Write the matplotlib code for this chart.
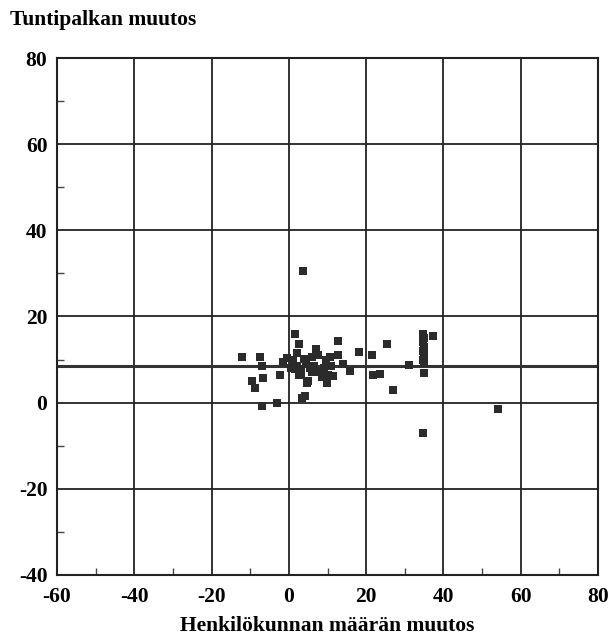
import matplotlib.pyplot as plt
import numpy as np

plt.rcParams['font.family'] = ['Liberation Serif', 'DejaVu Serif']
plt.rcParams['axes.unicode_minus'] = False

# henkilökunnan määrän muutos (x) ja tuntipalkan muutos (y)
staff_change = [3.6, -12.1, -7.4, -7.0, -6.8, -9.5, -8.7, -2.2, -0.5, -1.5,
                1.6, 2.5, 2.1, 1.0, 7.0, 12.8, 12.8, 10.6, 4.2, 3.5,
                4.6, 9.8, 11.5, 15.8, -7.0, -3.1, 2.0, 3.0, 4.5, 5.5,
                6.5, 8.0, 9.0, 6.0, 7.5, 3.0, 5.0, 8.5, 10.2, 11.0,
                18.2, 21.6, 25.3, 21.8, 23.5, 27.0, 31.1, 34.7, 34.7, 34.7,
                34.7, 34.9, 37.3, 34.7, 54.0, 1.5, 0.5, 14.0, 2.5, 6.0,
                9.5, 4.0, 34.9, 34.9, 34.9, 34.9]
wage_change = [30.5, 10.7, 10.7, 8.4, 5.7, 4.9, 3.4, 6.3, 10.4, 9.5,
               16.0, 13.5, 11.5, 10.0, 12.4, 14.2, 11.1, 10.7, 1.5, 1.0,
               4.6, 4.6, 6.1, 7.3, -0.8, 0.0, 8.5, 7.5, 9.0, 8.0,
               8.5, 7.0, 8.0, 10.5, 11.0, 6.5, 5.0, 6.0, 6.5, 8.5,
               11.8, 11.1, 13.7, 6.3, 6.7, 2.9, 8.7, 16.0, 14.0, 12.0,
               10.0, 6.9, 15.4, -7.0, -1.5, 7.8, 8.0, 9.0, 6.5, 7.2,
               9.8, 10.2, 15.0, 13.0, 11.0, 9.2]
mean_wage = 8.6

x_ticks = [-60, -40, -20, 0, 20, 40, 60, 80]
y_ticks = [-40, -20, 0, 20, 40, 60, 80]

fig = plt.figure(figsize=(6.14, 6.4), dpi=100)
ax = fig.add_axes([0.093, 0.102, 0.881, 0.807])

ax.scatter(staff_change, wage_change, marker='s', s=38, color='#2b2b2b',
           linewidths=0, zorder=3)
ax.axhline(mean_wage, color='#333333', lw=2.2, zorder=2)

ax.set_xlim(-60, 80)
ax.set_ylim(-40, 80)
ax.set_xticks(x_ticks)
ax.set_yticks(y_ticks)
ax.set_xticks(np.arange(-50, 80, 20), minor=True)
ax.set_yticks(np.arange(-30, 80, 20), minor=True)
ax.grid(True, which='major', color='#222222', lw=1.3)
ax.tick_params(which='major', length=0, labelsize=15.5, pad=7)
ax.tick_params(axis='x', which='major', pad=9)
ax.tick_params(which='minor', direction='in', length=5, width=1, color='#444444')
for lbl in ax.get_xticklabels() + ax.get_yticklabels():
    lbl.set_fontweight('bold')
for s in ax.spines.values():
    s.set_linewidth(1.5)
    s.set_color('#222222')

fig.text(0.016, 0.968, 'Tuntipalkan muutos', fontsize=15.5, fontweight='bold',
         ha='left', va='center')
ax.set_xlabel('Henkilökunnan määrän muutos', fontsize=15.5, fontweight='bold',
              labelpad=6)

fig.savefig('out.png', dpi=100)
